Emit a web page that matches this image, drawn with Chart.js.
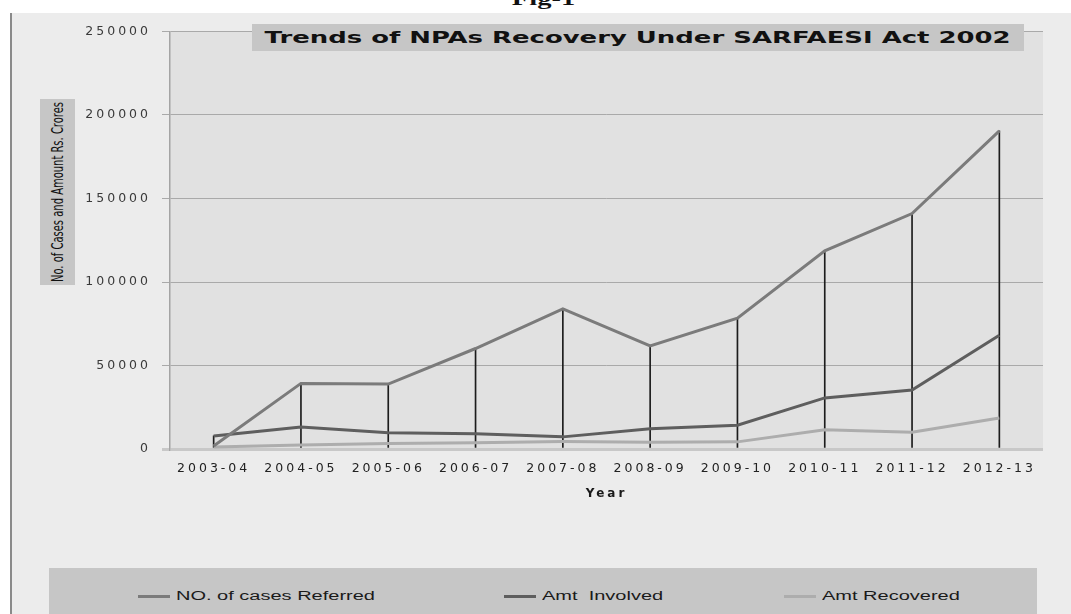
<!DOCTYPE html>
<html lang="en">
<head>
  <meta charset="UTF-8" />
  <meta name="viewport" content="width=device-width, initial-scale=1" />
  <title>Trends of NPAs Recovery Under SARFAESI Act 2002</title>
  <script src="https://cdn.jsdelivr.net/npm/chart.js"></script>
  <style>
    body { margin: 0; width: 1071px; height: 614px; overflow: hidden; position: relative; background: #fff; }
    .frame { position: absolute; left: 10px; top: 13px; width: 1061px; height: 601px; background: #ececec; border-left: 2px solid #8a8a8a; box-sizing: border-box; }
    .chart-box { position: absolute; left: 12px; top: 13px; width: 1059px; height: 601px; }
    .fig { position: absolute; left: 8px; top: -11px; width: 1071px; text-align: center; font: bold 19px 'Liberation Serif', serif; line-height: 19px; color: #111; transform: scaleX(1.5); z-index: 5; }
    .title-box { position: absolute; left: 252px; top: 24px; width: 772px; height: 27px; background: #c6c6c6; text-align: center; }
    .title-box span { display: inline-block; font: bold 16.5px 'DejaVu Sans', sans-serif; line-height: 27px; color: #111; transform: scaleX(1.57); white-space: nowrap; }
    .ylab { position: absolute; left: 40px; top: 99px; width: 35px; height: 186px; background: #c6c6c6; }
    .ylab span { position: absolute; left: 50%; top: 50%; white-space: nowrap; font: 16px 'Liberation Sans Narrow', 'DejaVu Sans Condensed', sans-serif; line-height: 16px; color: #111; }
    .legend { position: absolute; left: 49px; top: 568px; width: 988px; height: 46px; background: #c6c6c6; }
    .legend .swatch { position: absolute; top: 27px; width: 32px; height: 3px; }
    .legend .text { position: absolute; top: 20px; font: 12.5px 'Liberation Sans', sans-serif; line-height: 16px; color: #1a1a1a; white-space: pre; transform: scaleX(1.6); transform-origin: left center; }
  </style>
</head>
<body>

<div class="frame"></div>
<div class="fig">Fig-1</div>
<div class="chart-box">
  <canvas id="npaChart" width="1059" height="601"></canvas>
</div>
<div class="title-box"><span>Trends of NPAs Recovery Under SARFAESI Act 2002</span></div>
<div class="ylab"><span id="ylabText">No. of Cases and Amount Rs. Crores</span></div>
<div class="legend" id="legend"></div>

<script>
  // data (Rs. crores / no. of cases)
  const years = ['2003-04', '2004-05', '2005-06', '2006-07', '2007-08', '2008-09', '2009-10', '2010-11', '2011-12', '2012-13'];
  const casesReferred = [1748, 39288, 38897, 60178, 83942, 61760, 78366, 118642, 140991, 190537];
  const amtInvolved = [7847, 13224, 9792, 9058, 7263, 12067, 14249, 30604, 35300, 68100];
  const amtRecovered = [1156, 2391, 3363, 3749, 4429, 3982, 4269, 11561, 10100, 18500];
  const yTicks = [0, 50000, 100000, 150000, 200000, 250000];

  // legend text start (page x)
  const legendTextX = [176, 542, 822];

  // drop lines go from the highest series down to the axis
  const dropTops = years.map((_, i) => Math.max(casesReferred[i], amtInvolved[i], amtRecovered[i]));

  const plotBackground = {
    id: 'plotBackground',
    beforeDraw(chart) {
      const { ctx, chartArea: a } = chart;
      ctx.save();
      ctx.fillStyle = '#e1e1e1';
      ctx.fillRect(a.left, a.top, a.right - a.left, a.bottom - a.top);
      ctx.restore();
      ctx.letterSpacing = '3px';
    }
  };

  const tickFont = { family: 'DejaVu Sans', size: 12.5 };

  const chart = new Chart(document.getElementById('npaChart'), {
    type: 'line',
    data: {
      labels: years,
      datasets: [
        { label: 'NO. of cases Referred', data: casesReferred, borderColor: '#7b7b7b', borderWidth: 3, pointRadius: 0, tension: 0, order: 1 },
        { label: 'Amt  Involved', data: amtInvolved, borderColor: '#5e5e5e', borderWidth: 3, pointRadius: 0, tension: 0, order: 2 },
        { label: 'Amt Recovered', data: amtRecovered, borderColor: '#adadad', borderWidth: 3, pointRadius: 0, tension: 0, order: 3 },
        { type: 'bar', label: 'drop', data: dropTops, backgroundColor: '#1c1c1c', barThickness: 1, order: 10 }
      ]
    },
    options: {
      responsive: false,
      animation: false,
      devicePixelRatio: 1,
      layout: { padding: { top: 17, right: 28, bottom: 105, left: 0 } },
      plugins: {
        legend: { display: false },
        title: { display: false },
        tooltip: { enabled: false }
      },
      scales: {
        x: {
          offset: true,
          grid: { display: false, drawTicks: false },
          border: { display: false },
          ticks: { autoSkip: false, maxRotation: 0, padding: 12, color: '#222', font: tickFont },
          title: { display: true, text: 'Year', color: '#1a1a1a', font: { family: 'DejaVu Sans', size: 12, weight: 'bold' }, padding: { top: 0, bottom: 8 } },
          afterFit(scale) { scale.height = 60; }
        },
        y: {
          min: yTicks[0],
          max: yTicks[yTicks.length - 1],
          afterBuildTicks(scale) { scale.ticks = yTicks.map(v => ({ value: v })); },
          ticks: { padding: 11, color: '#3a3a3a', font: tickFont, callback: v => String(v) },
          grid: {
            color: ctx => ctx.tick && ctx.tick.value === 0 ? '#c8c8c8' : '#a9a9a9',
            lineWidth: ctx => ctx.tick && ctx.tick.value === 0 ? 3 : 1,
            tickLength: 8
          },
          border: { color: '#a4a4a4', width: 1.5 },
          afterFit(scale) { scale.width = 158; }
        }
      }
    },
    plugins: [plotBackground]
  });

  // squeeze the rotated axis label into its box
  const ylab = document.getElementById('ylabText');
  const squeeze = Math.min(1, 180 / ylab.offsetWidth);
  ylab.style.transform = 'translate(-50%, -50%) rotate(-90deg) scaleX(' + squeeze + ')';

  // html legend from the line datasets
  const legend = document.getElementById('legend');
  chart.data.datasets.filter(d => d.type !== 'bar').forEach((d, i) => {
    const sw = document.createElement('span');
    sw.className = 'swatch';
    sw.style.left = (legendTextX[i] - 49 - 38) + 'px';
    sw.style.background = d.borderColor;
    const tx = document.createElement('span');
    tx.className = 'text';
    tx.style.left = (legendTextX[i] - 49) + 'px';
    tx.textContent = d.label;
    legend.appendChild(sw);
    legend.appendChild(tx);
  });
</script>
</body>
</html>
